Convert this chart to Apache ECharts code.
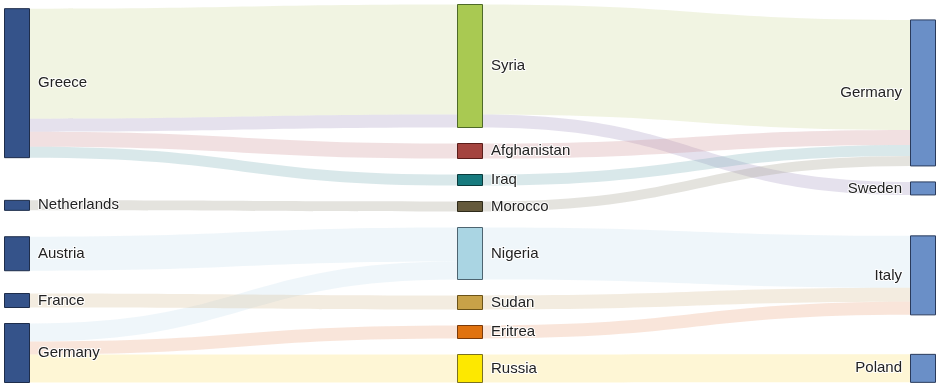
<!DOCTYPE html>
<html>
<head>
<meta charset="utf-8">
<script src="https://cdn.jsdelivr.net/npm/echarts@6/dist/echarts.min.js"></script>
<style>html,body{margin:0;padding:0;background:#fff}#c{width:942px;height:388px}</style>
</head>
<body>
<div id="c"></div>
<script>
// Nodes (three columns: transit country, nationality, destination)
const originNodes = ['Greece', 'Netherlands', 'Austria', 'France', 'Germany (transit)'];
const nationalityNodes = ['Syria', 'Afghanistan', 'Iraq', 'Morocco', 'Nigeria', 'Sudan', 'Eritrea', 'Russia'];
const destinationNodes = ['Germany', 'Sweden', 'Italy', 'Poland'];
const nodeLabels = {'Germany (transit)': 'Germany'};

// Links
const linkSources = ['Greece', 'Greece', 'Greece', 'Greece', 'Netherlands', 'Austria', 'Germany (transit)', 'France', 'Germany (transit)', 'Germany (transit)',
  'Syria', 'Syria', 'Afghanistan', 'Iraq', 'Morocco', 'Nigeria', 'Sudan', 'Eritrea', 'Russia'];
const linkTargets = ['Syria', 'Syria', 'Afghanistan', 'Iraq', 'Morocco', 'Nigeria', 'Nigeria', 'Sudan', 'Eritrea', 'Russia',
  'Germany', 'Sweden', 'Germany', 'Germany', 'Germany', 'Italy', 'Italy', 'Italy', 'Poland'];
const linkValues = [110, 13, 15, 11, 10, 34, 18, 14, 13, 28,
  110, 13, 15, 11, 10, 52, 14, 13, 28];
const linkColors = ['green', 'lavender', 'pink', 'teal', 'gray', 'blue', 'blue', 'tan', 'salmon', 'yellow',
  'green', 'lavender', 'pink', 'teal', 'gray', 'blue', 'tan', 'salmon', 'yellow'];

// Styles
const linkPalette = {
  green: 'rgb(208,218,158)', lavender: 'rgb(168,155,195)', pink: 'rgb(208,152,155)', teal: 'rgb(128,178,185)',
  gray: 'rgb(165,162,145)', blue: 'rgb(202,225,238)', tan: 'rgb(215,192,152)', salmon: 'rgb(235,168,132)', yellow: 'rgb(252,225,115)'
};
const nodeFill = {
  Syria: ['#a9c952', '#4e6a28'], Afghanistan: ['#a4443f', '#5a1d1a'], Iraq: ['#177a7e', '#0b3b3c'],
  Morocco: ['#655a3c', '#2e2a1a'], Nigeria: ['#aad5e3', '#4d6470'], Sudan: ['#c8a248', '#6b5318'],
  Eritrea: ['#e0720f', '#7a3a0a'], Russia: ['#fde800', '#7b7220']
};

const labelBase = {
  fontFamily: 'Liberation Sans, Arial, sans-serif', fontSize: 15, color: '#222',
  textBorderColor: 'rgba(255,255,255,0.9)', textBorderWidth: 2, distance: 8
};

const nodes = [];
originNodes.forEach(n => nodes.push({
  name: n, depth: 0,
  itemStyle: {color: '#35538a', borderColor: '#1e2d4b', borderWidth: 1},
  label: Object.assign({position: 'right', formatter: nodeLabels[n] || n}, labelBase)
}));
nationalityNodes.forEach(n => nodes.push({
  name: n, depth: 1,
  itemStyle: {color: nodeFill[n][0], borderColor: nodeFill[n][1], borderWidth: 1},
  label: Object.assign({position: 'right', formatter: n}, labelBase)
}));
destinationNodes.forEach(n => nodes.push({
  name: n, depth: 2,
  itemStyle: {color: '#6a8fc7', borderColor: '#2a3b5c', borderWidth: 1},
  label: Object.assign({position: 'left', formatter: n}, labelBase)
}));

const links = linkSources.map((s, i) => ({
  source: s, target: linkTargets[i], value: linkValues[i],
  lineStyle: {color: linkPalette[linkColors[i]], opacity: 0.3}
}));

const chart = echarts.init(document.getElementById('c'), null, {renderer: 'canvas'});
chart.setOption({
  animation: false,
  series: [{
    type: 'sankey',
    left: 4.5, right: 6.5, top: 4.5, bottom: 5.5,
    nodeWidth: 25, nodeGap: 16,
    nodeAlign: 'justify',
    layoutIterations: 1000,
    draggable: false,
    emphasis: {disabled: true},
    data: nodes,
    links: links,
    lineStyle: {curveness: 0.5}
  }]
});
</script>
</body>
</html>
